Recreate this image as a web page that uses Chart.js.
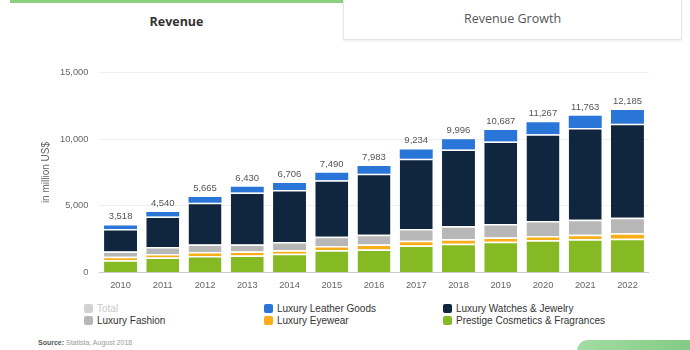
<!DOCTYPE html>
<html>
<head>
<meta charset="utf-8">
<script src="https://cdn.jsdelivr.net/npm/chart.js@4/dist/chart.umd.min.js"></script>
<style>
  html, body { margin: 0; padding: 0; background: #fff; width: 690px; height: 350px; overflow: hidden; position: relative; font-family: "Liberation Sans", Arial, sans-serif; }
  #topline { position: absolute; left: 10px; top: 0; width: 333px; height: 3px; background: #8ccf7e; }
  #tab1 { position: absolute; left: 10px; top: 3px; width: 333px; height: 37px; line-height: 37px; text-align: center; font-family: "Open Sans", sans-serif; font-weight: bold; font-size: 12.5px; color: #333; }
  #tab2 { position: absolute; left: 343px; top: -1px; width: 337px; height: 40px; line-height: 40px; text-align: center; font-family: "Open Sans", sans-serif; font-size: 12.5px; color: #555; border: 1px solid #e6e6e6; border-top: none; box-shadow: 0 1px 2px rgba(0,0,0,0.08); background: #fff; }
  #wrap { position: absolute; left: 0; top: 56px; width: 690px; height: 240px; }
  #legend { position: absolute; left: 0; top: 303px; width: 690px; height: 26px; font-size: 10px; color: #333; }
  .li { position: absolute; height: 12px; line-height: 12px; white-space: nowrap; }
  .li .box { position: absolute; left: 0; top: 1px; width: 9px; height: 9px; border-radius: 2px; }
  .li .tx { position: absolute; left: 13px; top: 0; }
  #source { position: absolute; left: 38px; top: 339px; font-size: 7px; color: #999; }
  #source b { color: #555; }
  #btn { position: absolute; left: 577px; top: 340px; width: 125px; height: 22px; border-radius: 11px; background: linear-gradient(to right, #a3dca3, #7fca82); }
</style>
</head>
<body>
<div id="topline"></div>
<div id="tab1">Revenue</div>
<div id="tab2">Revenue Growth</div>
<div id="wrap"><canvas id="c" width="690" height="240"></canvas></div>
<div id="legend"></div>
<div id="source"><b>Source:</b> Statista, August 2018</div>
<div id="btn"></div>
<script>
const years = ["2010","2011","2012","2013","2014","2015","2016","2017","2018","2019","2020","2021","2022"];
const totals    = [3518, 4540, 5665, 6430, 6706, 7490, 7983, 9234, 9996, 10687, 11267, 11763, 12185];
const cosmetics = [915, 1125, 1240, 1275, 1410, 1665, 1725, 2025, 2150, 2310, 2415, 2490, 2535];
const eyewear   = [262, 262, 300, 300, 262, 322, 375, 352, 347, 315, 322, 337, 412];
const fashion   = [398, 525, 560, 525, 615, 690, 735, 885, 968, 1012, 1125, 1133, 1155];
const watches   = [1687, 2288, 3135, 3900, 3900, 4238, 4565, 5273, 5760, 6188, 6503, 6877, 7058];
const leather   = [256, 340, 430, 430, 519, 575, 583, 699, 771, 862, 902, 926, 1025];
const yTicks    = [0, 5000, 10000, 15000];

const seriesNames = {
  total: "Total",
  leather: "Luxury Leather Goods",
  watches: "Luxury Watches & Jewelry",
  fashion: "Luxury Fashion",
  eyewear: "Luxury Eyewear",
  cosmetics: "Prestige Cosmetics & Fragrances"
};
const colors = {
  total: "#d2d2d2",
  leather: "#2a76d8",
  watches: "#0f263e",
  fashion: "#b7b7b7",
  eyewear: "#f9ad18",
  cosmetics: "#86ba24"
};

const FONT = '"Liberation Sans", Arial, sans-serif';

function ds(key, data, border) {
  return {
    label: seriesNames[key],
    data: data,
    backgroundColor: colors[key],
    borderColor: "#ffffff",
    borderWidth: border ? { top: 1.5, right: 0, bottom: 0, left: 0 } : 0,
    borderSkipped: "start",
    stack: "s",
    barPercentage: 0.78,
    categoryPercentage: 1.0
  };
}

const totalsPlugin = {
  id: "totals",
  afterDatasetsDraw(chart) {
    const { ctx, scales } = chart;
    ctx.save();
    ctx.font = "9.5px " + FONT;
    ctx.fillStyle = "#555";
    ctx.textAlign = "center";
    ctx.textBaseline = "bottom";
    totals.forEach((v, i) => {
      ctx.fillText(v.toLocaleString("en-US"), scales.x.getPixelForValue(i), scales.y.getPixelForValue(v) - 4);
    });
    ctx.restore();
  }
};

new Chart(document.getElementById("c"), {
  type: "bar",
  data: {
    labels: years,
    datasets: [
      ds("cosmetics", cosmetics, true),
      ds("eyewear", eyewear, true),
      ds("fashion", fashion, true),
      ds("watches", watches, true),
      ds("leather", leather, false)
    ]
  },
  options: {
    responsive: false,
    animation: false,
    devicePixelRatio: 1,
    layout: { padding: { left: 36, right: 41.4, top: 7, bottom: 0 } },
    plugins: { legend: { display: false }, tooltip: { enabled: false } },
    scales: {
      x: {
        stacked: true,
        grid: { display: false, drawTicks: false },
        border: { display: true, color: "#cccccc", width: 1 },
        ticks: { color: "#666", font: { family: FONT, size: 9.3 }, padding: 7 },
        afterFit(scale) { scale.height = 23.5; }
      },
      y: {
        stacked: true,
        min: 0,
        max: 15000,
        afterBuildTicks(scale) { scale.ticks = yTicks.map(v => ({ value: v })); },
        grid: { color: "#efefef", lineWidth: 1, drawTicks: false },
        border: { display: false },
        ticks: {
          color: "#666",
          font: { family: FONT, size: 9.3 },
          padding: 11,
          callback: v => v.toLocaleString("en-US")
        },
        title: { display: true, text: "in million US$", color: "#666", font: { family: FONT, size: 10 }, padding: { top: 4, bottom: 4 } },
        afterFit(scale) { scale.width = 63.4; }
      }
    }
  },
  plugins: [totalsPlugin]
});

// legend
const legendItems = [
  { key: "total", x: 84, row: 0, faded: true },
  { key: "fashion", x: 84, row: 1 },
  { key: "leather", x: 264, row: 0 },
  { key: "eyewear", x: 264, row: 1 },
  { key: "watches", x: 443, row: 0 },
  { key: "cosmetics", x: 443, row: 1 }
];
const lg = document.getElementById("legend");
legendItems.forEach(it => {
  const d = document.createElement("div");
  d.className = "li";
  d.style.left = it.x + "px";
  d.style.top = (it.row * 12) + "px";
  const b = document.createElement("span");
  b.className = "box";
  b.style.background = colors[it.key];
  const t = document.createElement("span");
  t.className = "tx";
  t.textContent = seriesNames[it.key];
  if (it.faded) t.style.color = "#c8c8c8";
  d.appendChild(b); d.appendChild(t);
  lg.appendChild(d);
});
</script>
</body>
</html>
